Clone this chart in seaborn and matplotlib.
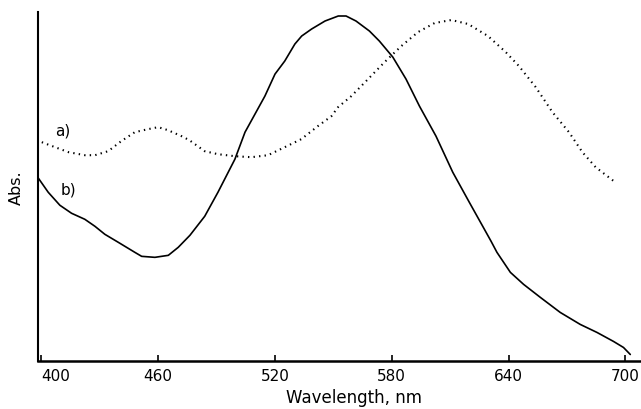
import matplotlib
matplotlib.use("Agg")
import matplotlib.pyplot as plt
import seaborn as sns
import pandas as pd

# Curve a) (dotted)
wl_a = [400.2, 407, 414, 422.3, 427.5, 434.3, 441, 448, 454.8, 460, 465, 472, 476,
        483.9, 490.7, 499.4, 507.9, 516.4, 525, 533.5, 542, 549, 552.4, 559.2, 567.8,
        576.3, 584.9, 593.5, 602, 610.6, 619.2, 629.4, 638.5, 645.3, 653.9, 662.5,
        671, 677.9, 684.7, 694.1]
abs_a = [2.19, 2.14, 2.09, 2.06, 2.06, 2.10, 2.20, 2.29, 2.32, 2.34, 2.31, 2.25, 2.21,
         2.10, 2.07, 2.05, 2.04, 2.06, 2.14, 2.22, 2.35, 2.45, 2.54, 2.65, 2.82,
         2.99, 3.15, 3.29, 3.38, 3.41, 3.37, 3.25, 3.09, 2.95, 2.74, 2.49,
         2.29, 2.09, 1.94, 1.80]

# Curve b) (solid)
wl_b = [398.1, 403.5, 409.5, 415.5, 422.3, 427.5, 432.6, 439.5, 448, 451.5, 458.3,
        465.2, 470.3, 476.3, 483.9, 490.7, 499.4, 504.6, 509.7, 514.8, 520, 525,
        530.2, 533.7, 538.8, 545.7, 552.5, 556.5, 561.6, 568.5, 573.6, 580.5, 587.3,
        594.2, 602.7, 611.3, 619.8, 626.7, 631, 634, 640.9, 647.7, 656.3, 666.5,
        676.8, 685.4, 693.9, 699, 702.5]
abs_b = [1.84, 1.69, 1.56, 1.48, 1.42, 1.35, 1.27, 1.19, 1.09, 1.05, 1.04,
         1.06, 1.14, 1.26, 1.45, 1.69, 2.02, 2.29, 2.47, 2.65, 2.87, 3.00,
         3.17, 3.25, 3.32, 3.40, 3.45, 3.45, 3.40, 3.30, 3.20, 3.04, 2.82,
         2.55, 2.25, 1.89, 1.59, 1.35, 1.20, 1.09, 0.89, 0.77, 0.64, 0.49,
         0.37, 0.29, 0.20, 0.14, 0.07]

x_ticks = [400, 460, 520, 580, 640, 700]

df_a = pd.DataFrame({"wl": wl_a, "abs": abs_a})
df_b = pd.DataFrame({"wl": wl_b, "abs": abs_b})

sns.set_style("ticks")
plt.rcParams["font.family"] = ["DejaVu Sans"]
plt.rcParams["lines.scale_dashes"] = False
plt.rcParams["text.color"] = "black"
plt.rcParams["axes.labelcolor"] = "black"
plt.rcParams["xtick.color"] = "black"
plt.rcParams["axes.edgecolor"] = "black"

fig = plt.figure(figsize=(6.41, 4.10), dpi=100)
ax = fig.add_axes([0.0588, 0.1159, 0.9412, 0.8524])

sns.lineplot(data=df_b, x="wl", y="abs", ax=ax, color="black", linewidth=1.2,
             sort=False, estimator=None)
sns.lineplot(data=df_a, x="wl", y="abs", ax=ax, color="black", linewidth=1.5,
             linestyle=(0, (1.0, 3.0)), sort=False, estimator=None)

ax.set_xlim(398.1, 708)
ax.set_ylim(0, 3.49)
ax.set_xticks(x_ticks)
ax.set_xticklabels([str(t) for t in x_ticks], fontsize=11, color="black")
ax.get_xticklabels()[0].set_ha("left")
ax.set_yticks([])
ax.tick_params(axis="x", direction="in", length=4, width=1.2, pad=5)
for s in ["top", "right"]:
    ax.spines[s].set_visible(False)
ax.spines["left"].set_linewidth(1.5)
ax.spines["bottom"].set_linewidth(1.8)

ax.set_xlabel("Wavelength, nm", fontsize=12, color="black")
ax.xaxis.set_label_coords(0.524, -0.075)
ax.set_ylabel("Abs.", fontsize=11.5, labelpad=10, color="black")

ax.text(411, 2.31, "a)", fontsize=11, ha="center", va="center", color="black")
ax.text(413.7, 1.72, "b)", fontsize=11, ha="center", va="center", color="black")

fig.savefig("out.png", dpi=100)
